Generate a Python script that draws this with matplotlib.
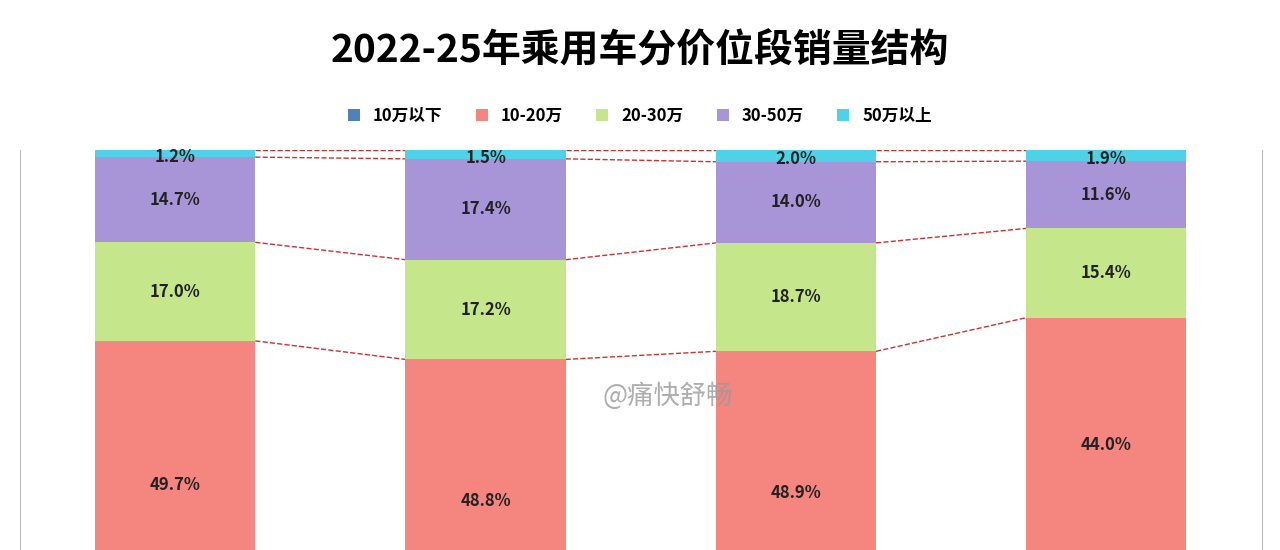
import numpy as np
import matplotlib
matplotlib.use("Agg")
import matplotlib.pyplot as plt

plt.rcParams['font.family'] = ['Noto Sans CJK SC', 'DejaVu Sans']

years = ['2022', '2023', '2024', '2025']
series = ['10万以下', '10-20万', '20-30万', '30-50万', '50万以上']
s_lt10 = [17.4, 15.1, 16.4, 27.1]
s_10_20 = [49.7, 48.8, 48.9, 44.0]
s_20_30 = [17.0, 17.2, 18.7, 15.4]
s_30_50 = [14.7, 17.4, 14.0, 11.6]
s_gt50 = [1.2, 1.5, 2.0, 1.9]
values = [s_lt10, s_10_20, s_20_30, s_30_50, s_gt50]
colors = ['#4f81bd', '#f4857f', '#c6e68c', '#a895d8', '#4fd2e8']

fig = plt.figure(figsize=(12.8, 5.5), dpi=100)
ax = fig.add_axes([0.0156, -0.327, 0.97, 1.054])
x = np.arange(len(years))
w = 0.516
bottom = np.zeros(len(years))
for name, vals, c in zip(series, values, colors):
    vals = np.array(vals)
    ax.bar(x, vals, w, bottom=bottom, color=c, label=name, zorder=2)
    if name != '10万以下':
        for xi, b, v in zip(x, bottom, vals):
            yy = b + v / 2 if v > 3 else b + v / 2 - 0.6
            ax.text(xi, yy, f'{v:.1f}%', ha='center', va='center',
                    fontsize=12, fontweight='bold', color='#222222', zorder=4)
    bottom = bottom + vals

# dashed connectors between bar boundaries
cum = np.cumsum(np.array(values), axis=0)
for level in cum[1:]:
    for i in range(len(years) - 1):
        ax.plot([x[i] + w / 2, x[i + 1] - w / 2], [level[i], level[i + 1]],
                ls='--', color='#d03030', lw=1, zorder=1)

ax.set_xlim(-0.5, 3.5)
ax.set_ylim(0, 100)
ax.set_xticks([])
ax.set_yticks([])
for sp in ['top', 'bottom']:
    ax.spines[sp].set_visible(False)
for sp in ['left', 'right']:
    ax.spines[sp].set_color('#bbbbbb')

fig.text(0.5, 0.908, '2022-25年乘用车分价位段销量结构', ha='center', va='center',
         fontsize=28, fontweight='bold')
handles, labels = ax.get_legend_handles_labels()
fig.legend(handles, labels, loc='center', bbox_to_anchor=(0.5, 0.79), ncol=5,
           frameon=False, handlelength=0.7, handleheight=0.7,
           columnspacing=2.0, prop={'weight': 'bold', 'size': 12})
fig.text(0.522, 0.28, '@痛快舒畅', ha='center', va='center', fontsize=19,
         color='#9a9a9a', alpha=0.8, zorder=5)

fig.savefig('out.png', dpi=100)
